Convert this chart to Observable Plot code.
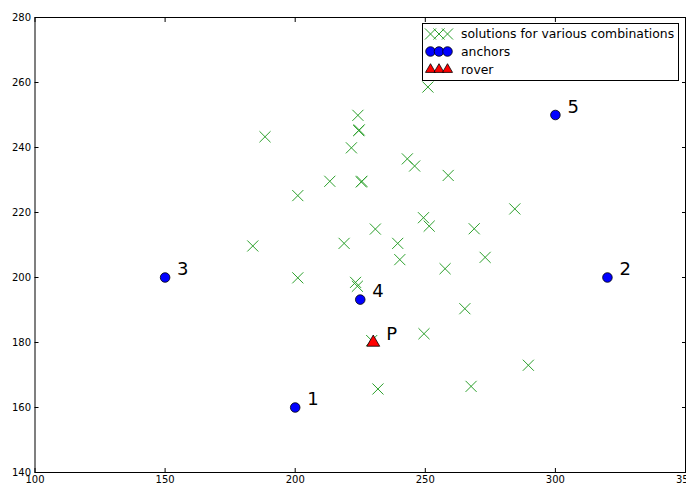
<!DOCTYPE html>
<html><head><meta charset="utf-8">
<script src="https://cdn.jsdelivr.net/npm/d3@7"></script>
<script src="https://cdn.jsdelivr.net/npm/@observablehq/plot@0.6"></script>
<style>
body{margin:0;background:#fff;font-family:"DejaVu Sans",sans-serif;}
#wrap{position:relative;width:686px;height:484px;overflow:hidden;background:#fff;}
#legend{position:absolute;left:422px;top:23px;}
</style></head><body><div id="wrap"></div>
<script>
// solutions for various combinations
const solX = [251.0,224.1,224.4,224.6,188.4,221.6,243.1,245.9,258.8,213.3,225.4,225.6,201.0,284.4,249.3,251.5,230.8,268.8,183.7,218.8,239.4,240.2,273.0,257.6,201.0,223.2,223.9,265.2,249.5,229.4,289.6,267.6,231.8];
const solY = [258.6,249.9,245.2,245.4,243.3,239.9,236.5,234.3,231.4,229.6,229.4,229.6,225.2,221.1,218.4,215.8,214.9,215.0,209.7,210.5,210.5,205.5,206.2,202.7,199.9,198.5,197.3,190.4,182.7,180.6,173.0,166.5,165.7];
// anchors
const anchorNames = ["1","2","3","4","5"];
const anchorX = [200,320,150,225,300];
const anchorY = [160,200,200,193.2,250];
// rover
const roverNames = ["P"];
const roverX = [230];
const roverY = [180];
// ticks
const xTicks = [100,150,200,250,300,350];
const yTicks = [140,160,180,200,220,240,260,280];
const legendLabels = ["solutions for various combinations","anchors","rover"];

const sol = solX.map((x,i)=>({x, y: solY[i]}));
const anchors = anchorX.map((x,i)=>({x, y: anchorY[i], name: anchorNames[i]}));
const rover = roverX.map((x,i)=>({x, y: roverY[i], name: roverNames[i]}));

const green = "#2ca02c";
const chart = Plot.plot({
  width: 686, height: 484,
  marginLeft: 34.5, marginRight: 1, marginTop: 17, marginBottom: 12,
  x: {domain: [100, 350]},
  y: {domain: [140, 280]},
  style: {fontFamily: "DejaVu Sans", fontSize: "10px", color: "#000", background: "#fff", overflow: "visible"},
  marks: [
    Plot.axisX(xTicks, {anchor: "bottom", tickSize: -4, tickPadding: 7.5, label: null, fontSize: 10, stroke: "#000"}),
    Plot.axisX(xTicks, {anchor: "top", tickSize: -4, tickFormat: () => "", label: null, stroke: "#000"}),
    Plot.axisY(yTicks, {anchor: "left", tickSize: -4, tickPadding: 8, label: null, fontSize: 10, stroke: "#000"}),
    Plot.axisY(yTicks, {anchor: "right", tickSize: -4, tickFormat: () => "", label: null, stroke: "#000"}),
    Plot.frame({stroke: "#000", strokeWidth: 1}),
    Plot.dot(sol, {x: "x", y: "y", symbol: "times", r: 5.1, stroke: green, strokeWidth: 1}),
    Plot.dot(anchors, {x: "x", y: "y", r: 4.8, fill: "#0000ff", stroke: "#000", strokeWidth: 0.8}),
    Plot.dot(rover, {x: "x", y: "y", symbol: "triangle", r: 4.8, fill: "#ff0000", stroke: "#000", strokeWidth: 0.8}),
    Plot.text(anchors, {x: "x", y: "y", text: "name", dx: 12, dy: -8, textAnchor: "start", fontSize: 18, fill: "#000"}),
    Plot.text(rover, {x: "x", y: "y", text: "name", dx: 13, dy: -8, textAnchor: "start", fontSize: 18, fill: "#000"})
  ]
});
const wrap = document.getElementById("wrap");
wrap.appendChild(chart);

// legend
const lw = 257, lh = 58;
const lsvg = d3.select(wrap).append("svg").attr("id", "legend").attr("width", lw).attr("height", lh);
lsvg.append("rect").attr("x", 0.5).attr("y", 0.5).attr("width", lw - 1).attr("height", lh - 1).attr("fill", "#fff").attr("stroke", "#000");
const rowsY = [11, 28.5, 46.5];
const mx = [8.5, 17, 25.5];
const styles = [
  {sym: d3.symbolTimes, size: Math.PI * 5.1 * 5.1, fill: "none", stroke: green, sw: 1},
  {sym: d3.symbolCircle, size: Math.PI * 4.8 * 4.8, fill: "#0000ff", stroke: "#000", sw: 0.8},
  {sym: d3.symbolTriangle2, size: Math.PI * 4.8 * 4.8, fill: "#ff0000", stroke: "#000", sw: 0.8}
];
legendLabels.forEach((lab, i) => {
  const s = styles[i];
  mx.forEach(x => {
    lsvg.append("path").attr("d", d3.symbol(s.sym, s.size)())
      .attr("transform", `translate(${x},${rowsY[i]})`)
      .attr("fill", s.fill).attr("stroke", s.stroke).attr("stroke-width", s.sw);
  });
  lsvg.append("text").attr("x", 39).attr("y", rowsY[i]).attr("dy", "0.35em")
    .attr("font-family", "DejaVu Sans").attr("font-size", 12.4).attr("fill", "#000").text(lab);
});
</script>
</body></html>
